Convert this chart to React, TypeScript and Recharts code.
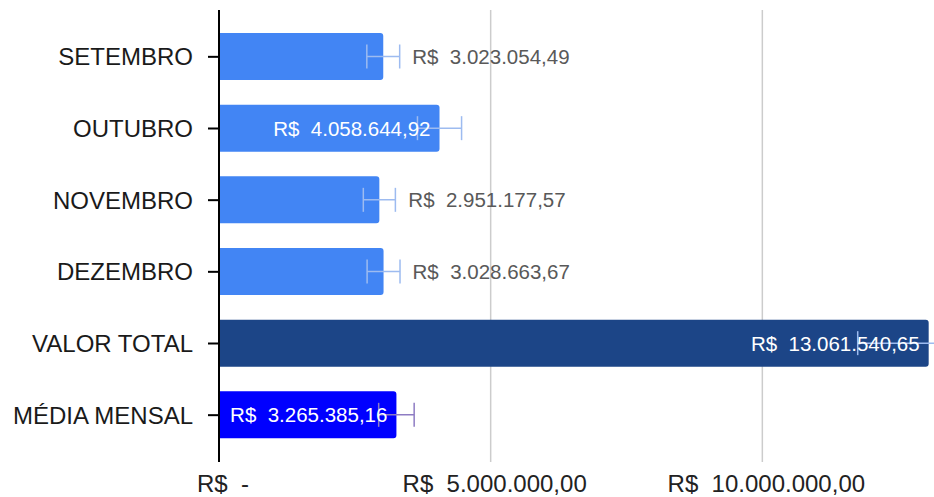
import { BarChart, Bar, XAxis, YAxis, CartesianGrid, Cell, ErrorBar, LabelList } from "recharts"

const categorias = ["SETEMBRO", "OUTUBRO", "NOVEMBRO", "DEZEMBRO", "VALOR TOTAL", "MÉDIA MENSAL"]
const valores = [3023054.49, 4058644.92, 2951177.57, 3028663.67, 13061540.65, 3265385.16]
// barras de erro (aprox. 10% do valor)
const erroMeses = [302305, 405864, 295118, 302866, 1306154, null]
const erroMedia = [null, null, null, null, null, 326539]
const cores = ["#4285f4", "#4285f4", "#4285f4", "#4285f4", "#1c4587", "#0000ff"]
const rotulosDentro = [false, true, false, false, true, true]
const ticksX = [0, 5000000, 10000000]

const fonte = "'Liberation Sans', Arial, sans-serif"

const dados = categorias.map((categoria, i) => ({
    categoria,
    valor: valores[i],
    erroMeses: erroMeses[i],
    erroMedia: erroMedia[i],
}))

const formatBRL = (v: number) => {
    const [inteiro, dec] = v.toFixed(2).split(".")
    const comPontos = inteiro.replace(/\B(?=(\d{3})+(?!\d))/g, ".")
    return `R$\u00a0\u00a0${comPontos},${dec}`
}

const formatEixo = (v: number) => (v === 0 ? "R$\u00a0\u00a0-" : formatBRL(v))

const renderRotulo = (props: any) => {
    const { x, y, width, height, index, value } = props
    const dentro = rotulosDentro[index]
    const fim = Number(x) + Number(width)
    return (
        <text
            x={dentro ? fim - 9 : fim + 29}
            y={Number(y) + Number(height) / 2}
            dy="0.36em"
            textAnchor={dentro ? "end" : "start"}
            fill={dentro ? "#ffffff" : "#595959"}
            fontSize={20.5}
            fontFamily={fonte}
        >
            {formatBRL(Number(value))}
        </text>
    )
}

export default function App() {
    return (
        <div style={{ position: "absolute", left: 0, top: 0, width: 934, height: 497, overflow: "hidden", background: "#fff", fontFamily: fonte }}>
            <BarChart
                width={1054}
                height={497}
                data={dados}
                layout="vertical"
                margin={{ top: 10, right: 20, bottom: 0, left: 0 }}
            >
                <CartesianGrid horizontal={false} stroke="#cccccc" strokeWidth={1.5} />
                <XAxis
                    type="number"
                    domain={[0, 15000000]}
                    ticks={ticksX}
                    height={35}
                    axisLine={false}
                    tickLine={false}
                    tickSize={0}
                    tickMargin={13}
                    tickFormatter={formatEixo}
                    tick={{ fill: "#222", fontSize: 24, fontFamily: fonte, dx: 4 }}
                />
                <YAxis
                    type="category"
                    dataKey="categoria"
                    width={219}
                    interval={0}
                    padding={{ top: 11, bottom: 11 }}
                    tickSize={11}
                    tickMargin={15}
                    axisLine={{ stroke: "#000", strokeWidth: 2 }}
                    tickLine={{ stroke: "#000", strokeWidth: 2 }}
                    tick={{ fill: "#1a1a1a", fontSize: 24, fontFamily: fonte }}
                />
                <Bar dataKey="valor" barSize={47} radius={[0, 3, 3, 0]} isAnimationActive={false}>
                    {dados.map((d, i) => (
                        <Cell key={d.categoria} fill={cores[i]} />
                    ))}
                    <ErrorBar dataKey="erroMeses" direction="x" width={12} stroke="#9dbbf0" strokeWidth={1.5} isAnimationActive={false} />
                    <ErrorBar dataKey="erroMedia" direction="x" width={12} stroke="#8e7cc3" strokeWidth={1.5} isAnimationActive={false} />
                    <LabelList dataKey="valor" content={renderRotulo} />
                </Bar>
            </BarChart>
        </div>
    )
}
